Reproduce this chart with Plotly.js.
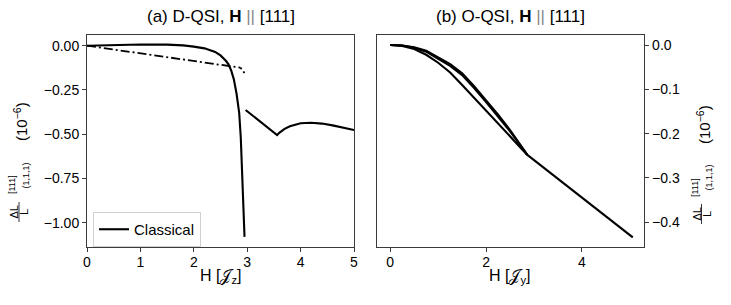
<!DOCTYPE html>
<html>
<head>
<meta charset="utf-8">
<script src="https://cdn.plot.ly/plotly-3.0.1.min.js"></script>
<style>html,body{margin:0;padding:0;background:#fff;}#chart{width:731px;height:305px;}</style>
</head>
<body>
<div id="chart"></div>
<script>
// ---- Panel (a) D-QSI data ----
const aClassicalX1 = [0, 0.5, 1.0, 1.5, 1.8, 2.0, 2.2, 2.4, 2.5, 2.6, 2.65, 2.7, 2.75, 2.8, 2.85, 2.88, 2.91, 2.94, 2.95];
const aClassicalY1 = [0, 0.004, 0.007, 0.006, 0.002, -0.005, -0.015, -0.035, -0.055, -0.085, -0.105, -0.14, -0.19, -0.27, -0.38, -0.52, -0.72, -0.95, -1.08];
const aClassicalX2 = [2.97, 3.56, 3.6, 3.7, 3.8, 3.9, 4.0, 4.2, 4.4, 4.6, 4.8, 5.0];
const aClassicalY2 = [-0.363, -0.505, -0.492, -0.47, -0.455, -0.445, -0.438, -0.435, -0.44, -0.45, -0.462, -0.476];
const aDashX = [0, 0.5, 1.0, 1.5, 2.0, 2.5, 2.87];
const aDashY = [0, -0.021, -0.043, -0.065, -0.086, -0.108, -0.124];
const aDotX = [2.87, 2.92, 2.96];
const aDotY = [-0.124, -0.138, -0.165];

// ---- Panel (b) O-QSI data ----
const bX = [0, 0.25, 0.5, 0.75, 1.0, 1.25, 1.5, 1.75, 2.0, 2.25, 2.5, 2.7, 2.86];
const bLowerY = [0, -0.002, -0.009, -0.022, -0.040, -0.062, -0.090, -0.119, -0.149, -0.178, -0.206, -0.228, -0.248];
const bMiddleY = [0, -0.001, -0.006, -0.015, -0.031, -0.047, -0.068, -0.097, -0.129, -0.161, -0.195, -0.224, -0.248];
const bUpperY = [0, -0.001, -0.005, -0.013, -0.028, -0.043, -0.064, -0.093, -0.125, -0.157, -0.192, -0.222, -0.248];
const bTailX = [2.86, 3.5, 4.0, 4.5, 5.06];
const bTailY = [-0.248, -0.302, -0.345, -0.387, -0.434];

// ---- Labels ----
const titleA = '(a) D-QSI, <b>H</b> <span style="color:#888">||</span> [111]';
const titleB = '(b) O-QSI, <b>H</b> <span style="color:#888">||</span> [111]';
const xTitleA = 'H [𝒥<sub>z</sub>]';
const xTitleB = 'H [𝒥<sub>y</sub>]';
const legendName = 'Classical';
const yTickA = [0, -0.25, -0.5, -0.75, -1.0];
const yTickB = [0, -0.1, -0.2, -0.3, -0.4];

const W = 731, H = 305;
const px = v => v / W;
const py = v => 1 - v / H;
const FONT = 'Liberation Sans, Arial, sans-serif';
const LW = 2.1;
const line = (dash) => ({color: '#000', width: LW, dash: dash || 'solid'});

const traces = [
  {x: aClassicalX1, y: aClassicalY1, type: 'scatter', mode: 'lines', line: line(), name: legendName, legendgroup: 'c', showlegend: true, xaxis: 'x', yaxis: 'y'},
  {x: aClassicalX2, y: aClassicalY2, type: 'scatter', mode: 'lines', line: line(), name: legendName, legendgroup: 'c', showlegend: false, xaxis: 'x', yaxis: 'y'},
  {x: aDashX, y: aDashY, type: 'scatter', mode: 'lines', line: {color: '#000', width: 1.8, dash: '9px,3px,2px,3px'}, showlegend: false, xaxis: 'x', yaxis: 'y'},
  {x: aDotX, y: aDotY, type: 'scatter', mode: 'lines', line: {color: '#000', width: 1.8, dash: '2px,3px'}, showlegend: false, xaxis: 'x', yaxis: 'y'},
  {x: bX, y: bLowerY, type: 'scatter', mode: 'lines', line: line(), showlegend: false, xaxis: 'x2', yaxis: 'y2'},
  {x: bX, y: bMiddleY, type: 'scatter', mode: 'lines', line: line(), showlegend: false, xaxis: 'x2', yaxis: 'y2'},
  {x: bX, y: bUpperY, type: 'scatter', mode: 'lines', line: line(), showlegend: false, xaxis: 'x2', yaxis: 'y2'},
  {x: bTailX, y: bTailY, type: 'scatter', mode: 'lines', line: line(), showlegend: false, xaxis: 'x2', yaxis: 'y2'}
];

const axisCommon = {
  showline: true, mirror: true, linecolor: '#3a3a3a', linewidth: 1,
  ticks: 'outside', ticklen: 4, tickwidth: 1, tickcolor: '#3a3a3a',
  showgrid: false, zeroline: false,
  tickfont: {family: FONT, size: 14, color: '#000'}
};

const yDomain = [py(246.7), py(34.5)];

function ann(text, x, y, size, angle) {
  return {text: text, x: px(x), y: py(y), xref: 'paper', yref: 'paper', xanchor: 'center', yanchor: 'middle',
          showarrow: false, textangle: angle || 0, font: {family: FONT, size: size, color: '#000'}};
}

const layout = {
  width: W, height: H,
  margin: {l: 0, r: 0, t: 0, b: 0},
  paper_bgcolor: '#fff', plot_bgcolor: '#fff',
  font: {family: FONT, color: '#000'},
  showlegend: true,
  legend: {
    x: px(93), y: py(212), xanchor: 'left', yanchor: 'top',
    bgcolor: '#fff', bordercolor: '#d0d0d0', borderwidth: 1,
    font: {family: FONT, size: 15, color: '#000'},
    tracegroupgap: 0
  },
  xaxis: Object.assign({}, axisCommon, {
    domain: [px(87), px(354)], range: [0, 5], tickvals: [0, 1, 2, 3, 4, 5], anchor: 'y', ticklabelstandoff: -2
  }),
  yaxis: Object.assign({}, axisCommon, {
    domain: yDomain, range: [-1.1356, 0.0633], tickvals: yTickA, tickformat: '.2f', anchor: 'x'
  }),
  xaxis2: Object.assign({}, axisCommon, {
    domain: [px(377.3), px(644.3)], range: [-0.27, 5.3], tickvals: [0, 2, 4], anchor: 'y2', ticklabelstandoff: -2
  }),
  yaxis2: Object.assign({}, axisCommon, {
    domain: yDomain, range: [-0.455, 0.0237], tickvals: yTickB, tickformat: '.1f', anchor: 'x2', side: 'right'
  }),
  annotations: [
    ann(titleA, 220.5, 17, 17),
    ann(titleB, 510.5, 17, 17),
    ann(xTitleA, 220.5, 276, 16),
    ann(xTitleB, 510, 276, 16),
    // left y title pieces
    ann('ΔL', 13.5, 212, 11, -90),
    ann('L', 24, 212, 11, -90),
    ann('[111]', 12, 185, 9, -90),
    ann('(1,1,1)', 25.5, 176, 9, -90),
    ann('(10<sup>−6</sup>)', 20, 122, 15, -90),
    // right y title pieces
    ann('ΔL', 696.5, 214, 11, -90),
    ann('L', 707, 214, 11, -90),
    ann('[111]', 695, 188, 9, -90),
    ann('(1,1,1)', 708.5, 178, 9, -90),
    ann('(10<sup>−6</sup>)', 703, 125, 15, -90)
  ],
  shapes: [
    {type: 'line', xref: 'paper', yref: 'paper', x0: px(19), x1: px(19), y0: py(202), y1: py(222), line: {color: '#000', width: 0.8}},
    {type: 'line', xref: 'paper', yref: 'paper', x0: px(701.5), x1: px(701.5), y0: py(204), y1: py(224), line: {color: '#000', width: 0.8}}
  ]
};

Plotly.newPlot('chart', traces, layout, {displayModeBar: false, staticPlot: true});
</script>
</body>
</html>
